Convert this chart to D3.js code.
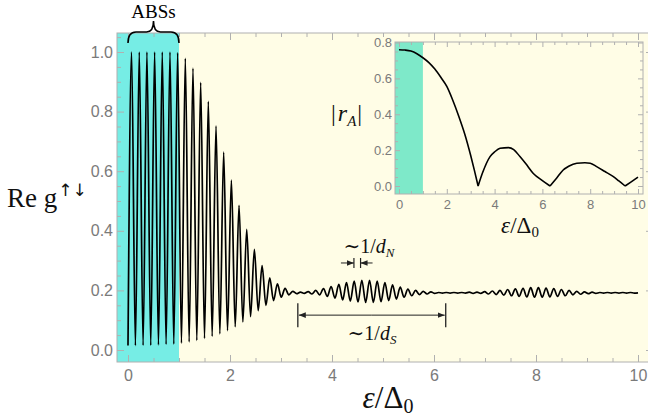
<!DOCTYPE html>
<html><head><meta charset="utf-8">
<script src="https://cdn.jsdelivr.net/npm/d3@7"></script>
<style>body{margin:0;background:#fff}svg{display:block}
.serif{font-family:'Liberation Serif','DejaVu Serif','Times New Roman',serif}
.sans{font-family:'Liberation Sans','DejaVu Sans',Arial,sans-serif}
</style>
</head><body>
<svg id="c" width="648" height="420"></svg>
<script>
// ---------- data ----------
// main curve: Re g(eps/Delta0) -- positions and heights of each peak and of the trough after it
const peakX = [0.070,0.221,0.371,0.522,0.672,0.823,0.973,1.124,1.274,1.425,1.575,1.726,1.876,2.027,2.177,2.328,2.478,2.629,2.779,2.930,3.080,3.231,3.381,3.532,3.682,3.833,3.983,4.134,4.284,4.435,4.585,4.736,4.886,5.037,5.187,5.338,5.488,5.639,5.789,5.940,6.090,6.241,6.391,6.542,6.692,6.843,6.993,7.144,7.294,7.445,7.595,7.746,7.896,8.047,8.197,8.348,8.498,8.649,8.799,8.950,9.100,9.251,9.401,9.552,9.702,9.853];
const peakY = [1.0,1.0,1.0,1.0,1.0,1.0,0.998,0.979,0.946,0.898,0.834,0.752,0.664,0.570,0.485,0.405,0.338,0.283,0.242,0.222,0.207,0.197,0.194,0.196,0.200,0.206,0.213,0.220,0.226,0.231,0.234,0.234,0.231,0.226,0.219,0.211,0.204,0.200,0.197,0.195,0.193,0.193,0.193,0.193,0.194,0.194,0.196,0.198,0.200,0.203,0.205,0.207,0.209,0.209,0.208,0.206,0.203,0.200,0.197,0.195,0.194,0.193,0.193,0.193,0.193,0.193];
const troughX = [0.145,0.296,0.446,0.597,0.747,0.898,1.048,1.199,1.349,1.500,1.650,1.801,1.951,2.102,2.252,2.403,2.553,2.704,2.854,3.005,3.155,3.306,3.456,3.607,3.757,3.908,4.058,4.209,4.359,4.510,4.660,4.811,4.961,5.112,5.262,5.413,5.563,5.714,5.864,6.015,6.165,6.316,6.466,6.617,6.767,6.918,7.068,7.219,7.369,7.520,7.670,7.821,7.971,8.122,8.272,8.423,8.573,8.724,8.874,9.025,9.175,9.326,9.476,9.627,9.777,9.928];
const troughY = [0.015,0.016,0.016,0.017,0.019,0.020,0.023,0.027,0.032,0.039,0.046,0.054,0.065,0.078,0.094,0.112,0.132,0.150,0.166,0.177,0.185,0.189,0.190,0.188,0.185,0.180,0.174,0.168,0.164,0.161,0.160,0.160,0.162,0.166,0.171,0.177,0.182,0.186,0.188,0.190,0.191,0.191,0.191,0.191,0.190,0.190,0.188,0.186,0.184,0.182,0.180,0.178,0.177,0.177,0.178,0.180,0.182,0.185,0.187,0.189,0.190,0.191,0.191,0.191,0.191,0.191];
const curveStart = [0, 0.015];
const curveEnd = [10, 0.192];

// inset: |r_A|(eps/Delta0)
const rX = [0,0.25,0.5,0.75,1.0,1.25,1.5,1.75,2.0,2.25,2.5,2.75,3.0,3.15,3.31,3.5,3.81,4.0,4.23,4.58,4.8,5.06,5.3,5.62,6.0,6.32,6.6,6.87,7.1,7.44,7.78,8.0,8.27,8.6,8.97,9.2,9.46,9.7,10];
const rY = [0.76,0.758,0.752,0.737,0.715,0.688,0.652,0.606,0.555,0.478,0.389,0.29,0.17,0.09,0.0,0.075,0.164,0.19,0.21,0.214,0.203,0.164,0.125,0.07,0.03,0.0,0.045,0.089,0.11,0.127,0.13,0.127,0.108,0.082,0.052,0.028,0.0,0.022,0.05];

// ticks
const mainXTicks = [0,2,4,6,8,10];
const mainYTicks = [0,0.2,0.4,0.6,0.8,1.0];
const insetXTicks = [0,2,4,6,8,10];
const insetYTicks = [0,0.2,0.4,0.6,0.8];
const absRange = [0, 1];          // shaded ABS region (eps < Delta0)
const dSMarks = [3.33, 6.23];     // ~1/d_S arrow ends
const dNMarks = [4.43, 4.56];     // ~1/d_N arrow ends

// ---------- layout ----------
const svg = d3.select('#c');
const bg = '#fffde6', cyan = '#76ede5', cyanInset = '#7ee9c9';
const frameCol = '#b0b0b0', labCol = '#7a7a7a';
const P = {l:117, r:653, t:33, b:362};
const I = {l:395, r:643, t:42, b:194};

const x = d3.scaleLinear().domain([0,10]).range([128,638]);
const y = d3.scaleLinear().domain([0,1]).range([350,52]);
const xi = d3.scaleLinear().domain([0,10]).range([399,638]);
const yi = d3.scaleLinear().domain([0,0.8]).range([186,42.5]);

svg.append('rect').attr('width',648).attr('height',420).attr('fill','#fff');
svg.append('rect').attr('x',P.l).attr('y',P.t).attr('width',P.r-P.l).attr('height',P.b-P.t).attr('fill',bg);
svg.append('rect').attr('x',P.l).attr('y',P.t).attr('width',x(absRange[1])-P.l).attr('height',P.b-P.t).attr('fill',cyan);

function minorVals(a,b,step){const v=[];for(let t=a;t<=b+1e-9;t+=step)v.push(+t.toFixed(4));return v;}

function axes(g, sx, sy, box, xt, yt, xMinor, yMinor, major, minor, fs, xpad, ypad, fmtY){
  const mk = (axis, tr, vals, size, fmt, labels) => {
    const a = g.append('g').attr('transform',tr)
      .call(axis.tickValues(vals).tickSizeInner(-size).tickSizeOuter(0).tickFormat(labels?fmt:()=>''));
    a.select('.domain').remove();
    a.selectAll('line').attr('stroke',frameCol).attr('stroke-width',1);
    a.attr('font-family',null).attr('font-size',null);
    return a;
  };
  const bx = mk(d3.axisBottom(sx).tickPadding(xpad), `translate(0,${box.b})`, xt, major, d3.format('d'), true);
  bx.selectAll('text').attr('fill',labCol).attr('class','sans').style('font-size',fs+'px');
  mk(d3.axisBottom(sx), `translate(0,${box.b})`, xMinor, minor, null, false);
  const ly = mk(d3.axisLeft(sy).tickPadding(ypad), `translate(${box.l},0)`, yt, major, fmtY, true);
  ly.selectAll('text').attr('fill',labCol).attr('class','sans').style('font-size',fs+'px');
  mk(d3.axisLeft(sy), `translate(${box.l},0)`, yMinor, minor, null, false);
  mk(d3.axisTop(sx), `translate(0,${box.t})`, xt, major, null, false);
  mk(d3.axisTop(sx), `translate(0,${box.t})`, xMinor, minor, null, false);
  mk(d3.axisRight(sy), `translate(${box.r},0)`, yt, major, null, false);
  mk(d3.axisRight(sy), `translate(${box.r},0)`, yMinor, minor, null, false);
  g.append('rect').attr('x',box.l).attr('y',box.t).attr('width',box.r-box.l).attr('height',box.b-box.t)
    .attr('fill','none').attr('stroke',frameCol).attr('stroke-width',1);
}

const gMain = svg.append('g');
axes(gMain, x, y, P, mainXTicks, mainYTicks, minorVals(0,10,0.5).filter(v=>v%2), minorVals(0,1.05,0.05).filter(v=>Math.abs(v*5-Math.round(v*5))>1e-6),
     7, 4, 16, 8, 4, d3.format('.1f'));

// main curve
const pts = [curveStart];
peakX.forEach((px,i)=>{ pts.push([px,peakY[i]]); if(troughX[i]<curveEnd[0]) pts.push([troughX[i],troughY[i]]); });
pts.push(curveEnd);
svg.append('defs').append('clipPath').attr('id','clipMain').append('rect')
  .attr('x',P.l).attr('y',P.t).attr('width',P.r-P.l).attr('height',P.b-P.t);
svg.append('path').datum(pts).attr('clip-path','url(#clipMain)')
  .attr('d', d3.line().x(d=>x(d[0])).y(d=>y(d[1])).curve(d3.curveMonotoneX))
  .attr('fill','none').attr('stroke','#000').attr('stroke-width',1.7).attr('stroke-linejoin','round');

// ABSs brace
const bx0 = x(absRange[0]), bx1 = x(absRange[1]), bm = (bx0+bx1)/2;
svg.append('path').attr('d',
  `M${bx0},43 C${bx0},36 ${bx0+2},32 ${bx0+8},32 L${bm-7},32 C${bm-2},32 ${bm},28 ${bm},21 C${bm},28 ${bm+2},32 ${bm+7},32 L${bx1-8},32 C${bx1-2},32 ${bx1},36 ${bx1},43`)
  .attr('fill','none').attr('stroke','#000').attr('stroke-width',1.6);
svg.append('text').attr('x',bm).attr('y',18).attr('text-anchor','middle').attr('class','serif')
  .style('font-size','19px').text('ABSs');

// arrows
const defs = svg.select('defs');
defs.append('marker').attr('id','ah').attr('viewBox','0 0 10 10').attr('refX',10).attr('refY',5)
  .attr('markerWidth',7).attr('markerHeight',7).attr('markerUnits','userSpaceOnUse').attr('orient','auto')
  .append('path').attr('d','M0,1 L10,5 L0,9 Z').attr('fill','#222');
const ac = '#222';
// d_S
const yS = y(0.117);
dSMarks.forEach(v=>svg.append('line').attr('x1',x(v)).attr('x2',x(v)).attr('y1',yS-12).attr('y2',yS+12).attr('stroke',ac).attr('stroke-width',1.3));
const sMid = (x(dSMarks[0])+x(dSMarks[1]))/2;
svg.append('line').attr('x1',sMid).attr('x2',x(dSMarks[0])+1).attr('y1',yS).attr('y2',yS).attr('stroke',ac).attr('stroke-width',1).attr('marker-end','url(#ah)');
svg.append('line').attr('x1',sMid).attr('x2',x(dSMarks[1])-1).attr('y1',yS).attr('y2',yS).attr('stroke',ac).attr('stroke-width',1).attr('marker-end','url(#ah)');
// d_N
const yN = y(0.292);
dNMarks.forEach(v=>svg.append('line').attr('x1',x(v)).attr('x2',x(v)).attr('y1',yN-5).attr('y2',yN+5).attr('stroke',ac).attr('stroke-width',1.2));
svg.append('line').attr('x1',x(dNMarks[0])-13).attr('x2',x(dNMarks[0])).attr('y1',yN).attr('y2',yN).attr('stroke',ac).attr('stroke-width',1).attr('marker-end','url(#ah)');
svg.append('line').attr('x1',x(dNMarks[1])+12).attr('x2',x(dNMarks[1])).attr('y1',yN).attr('y2',yN).attr('stroke',ac).attr('stroke-width',1).attr('marker-end','url(#ah)');

function mathLabel(px, py, fs, anchor, parts){
  const t = svg.append('text').attr('x',px).attr('y',py).attr('text-anchor',anchor).attr('class','serif')
    .style('font-size',fs+'px').attr('fill','#111');
  parts.forEach(p=>{
    const s = t.append('tspan').text(p.t);
    if(p.i) s.style('font-style','italic');
    if(p.s) s.style('font-size',p.s+'px');
    if(p.f) s.style('font-family',p.f);
    if(p.dy) s.attr('dy',p.dy);
    if(p.dx) s.attr('dx',p.dx);
  });
  return t;
}
mathLabel(369, 253, 20, 'middle', [{t:'∼1/'},{t:'d',i:1},{t:'N',i:1,s:13,dy:4}]);
mathLabel(372, 340, 20, 'middle', [{t:'∼1/'},{t:'d',i:1},{t:'S',i:1,s:13,dy:4}]);

// axis titles
mathLabel(388, 408, 31, 'middle', [{t:'ε',i:1},{t:'/Δ'},{t:'0',s:20,dy:5}]);
mathLabel(7, 207, 27, 'start', [{t:'Re g'},{t:'↑↓',s:17,dy:-11,dx:1,f:"'DejaVu Sans',sans-serif"}]);

// ---------- inset ----------
const gIn = svg.append('g');
gIn.append('rect').attr('x',I.l).attr('y',I.t).attr('width',I.r-I.l).attr('height',I.b-I.t).attr('fill',bg);
gIn.append('rect').attr('x',I.l).attr('y',I.t).attr('width',xi(absRange[1])-I.l).attr('height',I.b-I.t).attr('fill',cyanInset);
axes(gIn, xi, yi, I, insetXTicks, insetYTicks, minorVals(0,10,0.5).filter(v=>v%2), minorVals(0,0.8,0.05).filter(v=>Math.abs(v*5-Math.round(v*5))>1e-6),
     5, 3, 13, 6, 3, d3.format('.1f'));
// split |r_A| at zeros so cusps stay sharp
const rPts = rX.map((v,i)=>[v,rY[i]]);
const segs = []; let cur = [];
rPts.forEach((p,i)=>{ cur.push(p); if(p[1]===0 && i>0 && i<rPts.length-1){ segs.push(cur); cur=[p]; } });
segs.push(cur);
const rl = d3.line().x(d=>xi(d[0])).y(d=>yi(d[1])).curve(d3.curveMonotoneX);
gIn.append('path').attr('d', segs.map(s=>rl(s)).join(''))
  .attr('fill','none').attr('stroke','#000').attr('stroke-width',1.6).attr('stroke-linejoin','round');
mathLabel(520, 233, 23, 'middle', [{t:'ε',i:1},{t:'/Δ'},{t:'0',s:15,dy:4}]);
mathLabel(331, 121, 24, 'start', [{t:'|'},{t:'r',i:1,dx:2},{t:'A',i:1,s:15,dy:5},{t:'|',dy:-5,dx:1}]);
</script>
</body></html>
